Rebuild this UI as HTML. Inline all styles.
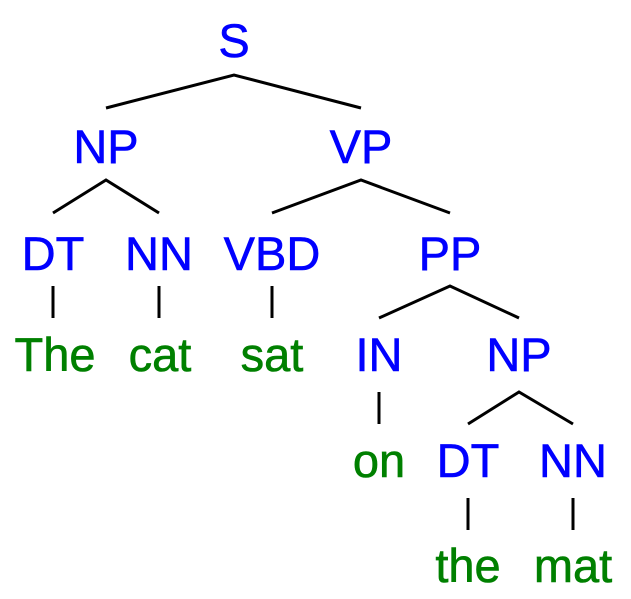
<!DOCTYPE html>
<html><head><style>html,body{margin:0;padding:0;background:#fff}</style></head><body>
<svg width="631" height="599" xmlns="http://www.w3.org/2000/svg" style="display:block">
<g font-family="Liberation Sans, Arial, sans-serif" font-size="47" text-anchor="middle" stroke-width="0.6">
<g fill="#0000ff" stroke="#0000ff">
<text x="234" y="57">S</text>
<text x="106" y="163">NP</text>
<text x="361" y="163">VP</text>
<text x="53" y="270">DT</text>
<text x="159" y="270">NN</text>
<text x="272" y="270">VBD</text>
<text x="450" y="270">PP</text>
<text x="379" y="371">IN</text>
<text x="519" y="371">NP</text>
<text x="468" y="477">DT</text>
<text x="573" y="477">NN</text>
</g>
<g fill="#008000" stroke="#008000">
<text x="55" y="371">The</text>
<text x="160" y="371">cat</text>
<text x="272" y="371">sat</text>
<text x="379" y="477">on</text>
<text x="468" y="582">the</text>
<text x="573" y="582">mat</text>
</g>
</g>
<g stroke="#000" stroke-width="3" fill="none">
<polyline points="106,108 234,75 361,108"/>
<polyline points="53,213 106,180 159,213"/>
<polyline points="272,213 361,180 450,213"/>
<line x1="53" y1="286" x2="53" y2="318"/>
<line x1="159" y1="286" x2="159" y2="318"/>
<line x1="272" y1="286" x2="272" y2="318"/>
<polyline points="379,318 450,286 519,318"/>
<line x1="379" y1="392" x2="379" y2="424"/>
<polyline points="468,424 519,392 573,424"/>
<line x1="468" y1="498" x2="468" y2="530"/>
<line x1="573" y1="498" x2="573" y2="530"/>
</g>
</svg>
</body></html>
